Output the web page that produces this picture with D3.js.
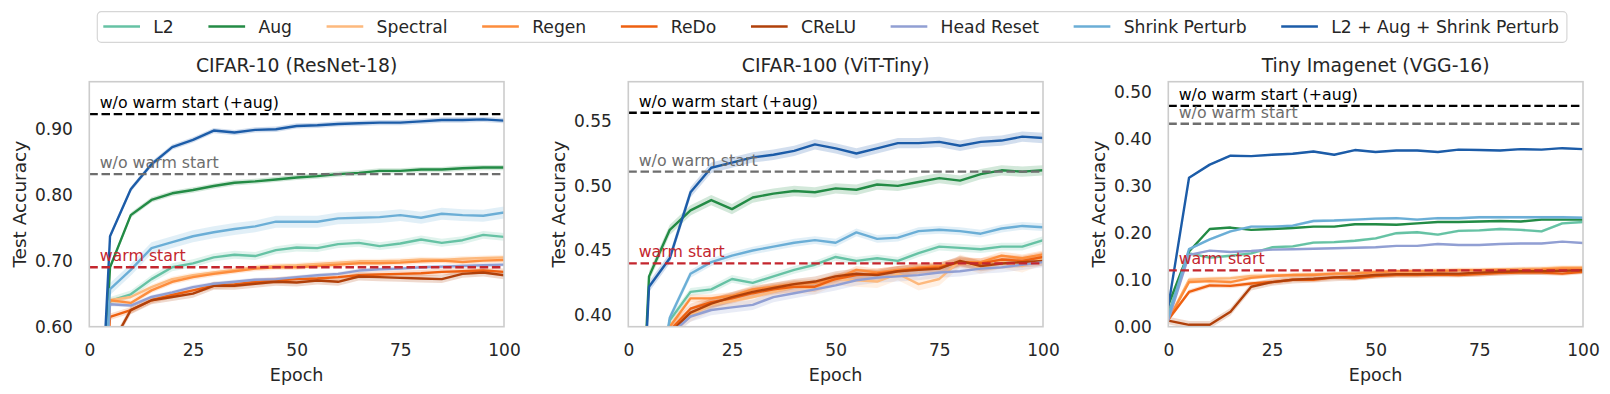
<!DOCTYPE html>
<html>
<head>
<meta charset="utf-8">
<script src="https://cdn.jsdelivr.net/npm/d3@7"></script>
<style>
  html, body { margin: 0; padding: 0; background: #fff; }
  svg { display: block; font-family: "DejaVu Sans", sans-serif; }
</style>
</head>
<body>
<svg id="chart" width="1610" height="394"></svg>
<script>
// ---------------- DATA ----------------
const epochs = [0, 5, 10, 15, 20, 25, 30, 35, 40, 45, 50, 55, 60, 65, 70, 75, 80, 85, 90, 95, 100];
const seriesNames = ["L2", "Aug", "Spectral", "Regen", "ReDo", "CReLU", "Head Reset", "Shrink Perturb", "L2 + Aug + Shrink Perturb"];
const panelTitles = ["CIFAR-10 (ResNet-18)", "CIFAR-100 (ViT-Tiny)", "Tiny Imagenet (VGG-16)"];
const xTicks = [0, 25, 50, 75, 100];
const yTicks1 = [0.60, 0.70, 0.80, 0.90];
const yTicks2 = [0.40, 0.45, 0.50, 0.55];
const yTicks3 = [0.00, 0.10, 0.20, 0.30, 0.40, 0.50];
const refLabels = ["w/o warm start (+aug)", "w/o warm start", "warm start"];
const refValues1 = [0.922, 0.831, 0.690];
const refValues2 = [0.5565, 0.511, 0.440];
const refValues3 = [0.470, 0.432, 0.120];

// CIFAR-10 (ResNet-18)
const c10_L2       = [0.10, 0.639, 0.649, 0.672, 0.690, 0.696, 0.705, 0.709, 0.707, 0.716, 0.720, 0.719, 0.725, 0.727, 0.722, 0.726, 0.732, 0.727, 0.731, 0.739, 0.736];
const c10_Aug      = [0.10, 0.690, 0.769, 0.792, 0.802, 0.807, 0.813, 0.818, 0.820, 0.823, 0.826, 0.828, 0.831, 0.833, 0.836, 0.836, 0.838, 0.838, 0.840, 0.841, 0.841];
const c10_Spectral = [0.10, 0.640, 0.645, 0.660, 0.672, 0.678, 0.682, 0.686, 0.690, 0.692, 0.693, 0.695, 0.697, 0.699, 0.699, 0.700, 0.702, 0.701, 0.703, 0.704, 0.705];
const c10_Regen    = [0.10, 0.640, 0.636, 0.655, 0.668, 0.675, 0.680, 0.684, 0.688, 0.690, 0.690, 0.692, 0.694, 0.696, 0.696, 0.697, 0.699, 0.700, 0.698, 0.700, 0.701];
const c10_ReDo     = [0.10, 0.615, 0.625, 0.640, 0.648, 0.655, 0.662, 0.664, 0.668, 0.670, 0.672, 0.673, 0.675, 0.678, 0.679, 0.680, 0.681, 0.683, 0.684, 0.685, 0.683];
const c10_CReLU    = [0.10, 0.568, 0.625, 0.640, 0.645, 0.650, 0.662, 0.662, 0.665, 0.668, 0.667, 0.670, 0.668, 0.676, 0.675, 0.674, 0.673, 0.672, 0.680, 0.682, 0.678];
const c10_Head     = [0.10, 0.634, 0.632, 0.645, 0.652, 0.660, 0.665, 0.668, 0.671, 0.672, 0.675, 0.678, 0.680, 0.685, 0.687, 0.688, 0.690, 0.691, 0.692, 0.693, 0.694];
const c10_Shrink   = [0.10, 0.657, 0.686, 0.719, 0.728, 0.737, 0.743, 0.748, 0.752, 0.759, 0.759, 0.759, 0.764, 0.765, 0.766, 0.769, 0.765, 0.771, 0.769, 0.768, 0.773];
const c10_All      = [0.10, 0.737, 0.808, 0.846, 0.872, 0.883, 0.897, 0.894, 0.898, 0.899, 0.904, 0.905, 0.907, 0.908, 0.909, 0.909, 0.911, 0.913, 0.913, 0.914, 0.912];
const c10_spread   = [0.006, 0.004, 0.004, 0.004, 0.005, 0.006, 0.003, 0.009, 0.004];

// CIFAR-100 (ViT-Tiny)
const c100_L2       = [0.01, 0.30, 0.396, 0.418, 0.420, 0.428, 0.425, 0.430, 0.435, 0.439, 0.445, 0.442, 0.444, 0.442, 0.448, 0.453, 0.452, 0.451, 0.453, 0.453, 0.458];
const c100_Aug      = [0.10, 0.430, 0.466, 0.481, 0.489, 0.482, 0.491, 0.494, 0.496, 0.495, 0.498, 0.497, 0.501, 0.500, 0.503, 0.506, 0.504, 0.509, 0.512, 0.511, 0.512];
const c100_Spectral = [0.01, 0.28, 0.389, 0.400, 0.408, 0.411, 0.414, 0.418, 0.422, 0.421, 0.428, 0.427, 0.426, 0.432, 0.424, 0.428, 0.442, 0.437, 0.441, 0.438, 0.444];
const c100_Regen    = [0.01, 0.28, 0.391, 0.413, 0.413, 0.415, 0.420, 0.422, 0.424, 0.425, 0.428, 0.435, 0.433, 0.435, 0.437, 0.438, 0.441, 0.441, 0.446, 0.444, 0.447];
const c100_ReDo     = [0.01, 0.28, 0.388, 0.405, 0.410, 0.413, 0.417, 0.420, 0.422, 0.422, 0.428, 0.431, 0.432, 0.434, 0.436, 0.437, 0.441, 0.440, 0.443, 0.442, 0.445];
const c100_CReLU    = [0.01, 0.28, 0.386, 0.402, 0.409, 0.414, 0.418, 0.421, 0.424, 0.426, 0.430, 0.432, 0.431, 0.434, 0.435, 0.436, 0.442, 0.438, 0.440, 0.441, 0.442];
const c100_Head     = [0.01, 0.28, 0.385, 0.399, 0.404, 0.406, 0.408, 0.414, 0.417, 0.420, 0.423, 0.427, 0.429, 0.430, 0.431, 0.433, 0.434, 0.436, 0.437, 0.439, 0.441];
const c100_Shrink   = [0.01, 0.30, 0.398, 0.432, 0.441, 0.446, 0.450, 0.453, 0.456, 0.458, 0.456, 0.464, 0.459, 0.460, 0.465, 0.466, 0.465, 0.463, 0.467, 0.469, 0.468];
const c100_All      = [0.10, 0.422, 0.444, 0.495, 0.514, 0.518, 0.522, 0.524, 0.527, 0.532, 0.529, 0.525, 0.529, 0.533, 0.533, 0.534, 0.531, 0.534, 0.535, 0.538, 0.537];
const c100_spread   = [0.003, 0.004, 0.005, 0.003, 0.004, 0.004, 0.004, 0.003, 0.004];

// Tiny Imagenet (VGG-16)
const tin_L2       = [0.028, 0.156, 0.147, 0.151, 0.156, 0.169, 0.171, 0.179, 0.180, 0.183, 0.188, 0.199, 0.201, 0.196, 0.204, 0.205, 0.208, 0.206, 0.203, 0.220, 0.223];
const tin_Aug      = [0.046, 0.160, 0.208, 0.211, 0.206, 0.208, 0.210, 0.213, 0.213, 0.218, 0.218, 0.217, 0.220, 0.223, 0.223, 0.224, 0.225, 0.224, 0.228, 0.228, 0.228];
const tin_Spectral = [0.015, 0.100, 0.102, 0.103, 0.108, 0.109, 0.110, 0.112, 0.113, 0.115, 0.117, 0.118, 0.119, 0.120, 0.121, 0.121, 0.122, 0.123, 0.124, 0.126, 0.126];
const tin_Regen    = [0.015, 0.095, 0.097, 0.095, 0.104, 0.108, 0.110, 0.110, 0.113, 0.113, 0.116, 0.118, 0.118, 0.118, 0.120, 0.120, 0.121, 0.121, 0.122, 0.124, 0.124];
const tin_ReDo     = [0.015, 0.074, 0.088, 0.087, 0.092, 0.095, 0.100, 0.100, 0.105, 0.103, 0.108, 0.110, 0.110, 0.111, 0.110, 0.112, 0.114, 0.115, 0.115, 0.113, 0.117];
const tin_CReLU    = [0.013, 0.004, 0.004, 0.032, 0.085, 0.095, 0.100, 0.102, 0.105, 0.107, 0.110, 0.112, 0.112, 0.113, 0.113, 0.115, 0.117, 0.118, 0.118, 0.119, 0.120];
const tin_Head     = [0.014, 0.153, 0.162, 0.159, 0.161, 0.164, 0.165, 0.166, 0.167, 0.168, 0.169, 0.172, 0.172, 0.176, 0.174, 0.174, 0.176, 0.177, 0.177, 0.181, 0.178];
const tin_Shrink   = [0.021, 0.165, 0.186, 0.203, 0.213, 0.213, 0.215, 0.225, 0.226, 0.228, 0.230, 0.231, 0.228, 0.231, 0.231, 0.233, 0.233, 0.233, 0.233, 0.233, 0.232];
const tin_All      = [0.043, 0.317, 0.345, 0.364, 0.363, 0.366, 0.368, 0.373, 0.366, 0.376, 0.372, 0.375, 0.375, 0.372, 0.377, 0.376, 0.375, 0.378, 0.377, 0.380, 0.378];
const tin_spread   = [0.003, 0.002, 0.005, 0.004, 0.005, 0.008, 0.002, 0.003, 0.002];

// ---------------- STYLE ----------------
const colors = ["#66c2a4", "#238b45", "#fdb97d", "#fd8d3c", "#ee6010", "#b0400a", "#919fd3", "#6baed6", "#1c5ca8"];
const refColors = ["#000000", "#6e6e6e", "#c4262e"];
const textColor = "#262626";

const panels = [
  { title: panelTitles[0], series: [c10_L2, c10_Aug, c10_Spectral, c10_Regen, c10_ReDo, c10_CReLU, c10_Head, c10_Shrink, c10_All], spread: c10_spread, yDomain: [0.6, 0.971], yTicks: yTicks1, refs: refValues1, left: 89.3 },
  { title: panelTitles[1], series: [c100_L2, c100_Aug, c100_Spectral, c100_Regen, c100_ReDo, c100_CReLU, c100_Head, c100_Shrink, c100_All], spread: c100_spread, yDomain: [0.3911, 0.5805], yTicks: yTicks2, refs: refValues2, left: 628.3 },
  { title: panelTitles[2], series: [tin_L2, tin_Aug, tin_Spectral, tin_Regen, tin_ReDo, tin_CReLU, tin_Head, tin_Shrink, tin_All], spread: tin_spread, yDomain: [0, 0.5215], yTicks: yTicks3, refs: refValues3, left: 1168.3 }
];

const svg = d3.select("#chart");
const W = 414.7, plotTop = 81.7, plotBottom = 326.7;

panels.forEach((p, pi) => {
  const x = d3.scaleLinear().domain([0, 100]).range([p.left, p.left + W]);
  const y = d3.scaleLinear().domain(p.yDomain).range([plotBottom, plotTop]);
  const g = svg.append("g");

  const clipId = "clip" + pi;
  svg.append("clipPath").attr("id", clipId).append("rect")
    .attr("x", p.left).attr("y", plotTop).attr("width", W).attr("height", plotBottom - plotTop);

  const plot = g.append("g").attr("clip-path", `url(#${clipId})`);

  // bands
  p.series.forEach((vals, si) => {
    const s = p.spread[si];
    const area = d3.area()
      .x((d, i) => x(epochs[i]))
      .y0(d => y(d - s))
      .y1(d => y(d + s));
    plot.append("path").datum(vals).attr("d", area)
      .attr("fill", colors[si]).attr("fill-opacity", 0.2).attr("stroke", "none");
  });
  // lines
  p.series.forEach((vals, si) => {
    const line = d3.line().x((d, i) => x(epochs[i])).y(d => y(d));
    plot.append("path").datum(vals).attr("d", line)
      .attr("fill", "none").attr("stroke", colors[si]).attr("stroke-width", 2.4)
      .attr("stroke-linejoin", "round").attr("stroke-linecap", "square");
  });

  // reference lines
  p.refs.forEach((v, ri) => {
    plot.append("line")
      .attr("x1", p.left).attr("x2", p.left + W)
      .attr("y1", y(v)).attr("y2", y(v))
      .attr("stroke", refColors[ri]).attr("stroke-width", 2.3)
      .attr("stroke-dasharray", "8.5,3.7");
  });
  p.refs.forEach((v, ri) => {
    g.append("text")
      .attr("x", x(2.5)).attr("y", y(v) - 6)
      .attr("fill", refColors[ri]).attr("font-size", 15.8)
      .text(refLabels[ri]);
  });

  // frame
  g.append("rect").attr("x", p.left).attr("y", plotTop).attr("width", W).attr("height", plotBottom - plotTop)
    .attr("fill", "none").attr("stroke", "#cccccc").attr("stroke-width", 1.6);

  // axes
  const xAxis = d3.axisBottom(x).tickValues(xTicks).tickSize(0).tickPadding(17).tickFormat(d3.format("d"));
  const xg = g.append("g").attr("transform", `translate(0,${plotBottom})`).call(xAxis);
  const yAxis = d3.axisLeft(y).tickValues(p.yTicks).tickSize(0).tickPadding(16.5).tickFormat(d3.format(".2f"));
  const yg = g.append("g").attr("transform", `translate(${p.left},0)`).call(yAxis);
  [xg, yg].forEach(a => {
    a.select(".domain").remove();
    a.selectAll("text").attr("font-size", 17).attr("fill", textColor).attr("font-family", "DejaVu Sans");
  });

  // title and labels
  g.append("text").attr("x", p.left + W / 2).attr("y", 72).attr("text-anchor", "middle")
    .attr("font-size", 18.8).attr("fill", textColor).text(p.title);
  g.append("text").attr("x", p.left + W / 2).attr("y", 381).attr("text-anchor", "middle")
    .attr("font-size", 17.5).attr("fill", textColor).text("Epoch");
  g.append("text").attr("transform", `translate(${p.left - 63},${(plotTop + plotBottom) / 2}) rotate(-90)`)
    .attr("text-anchor", "middle").attr("font-size", 18.5).attr("fill", textColor).text("Test Accuracy");
});

// legend
const legend = svg.append("g");
const box = legend.append("rect").attr("x", 97.3).attr("y", 11.7).attr("height", 30.6).attr("rx", 4)
  .attr("fill", "#fff").attr("stroke", "#d6d6d6").attr("stroke-width", 1.2);
let lx = 103.3;
seriesNames.forEach((name, i) => {
  legend.append("line").attr("x1", lx).attr("x2", lx + 36.7).attr("y1", 26.5).attr("y2", 26.5)
    .attr("stroke", colors[i]).attr("stroke-width", 2.6);
  const t = legend.append("text").attr("x", lx + 50).attr("y", 32.6)
    .attr("font-size", 17.2).attr("fill", textColor).text(name);
  const w = t.node().getComputedTextLength();
  lx = lx + 50 + w + 34.6;
});
box.attr("width", lx - 34.6 + 8 - 97.3);
</script>
</body>
</html>
